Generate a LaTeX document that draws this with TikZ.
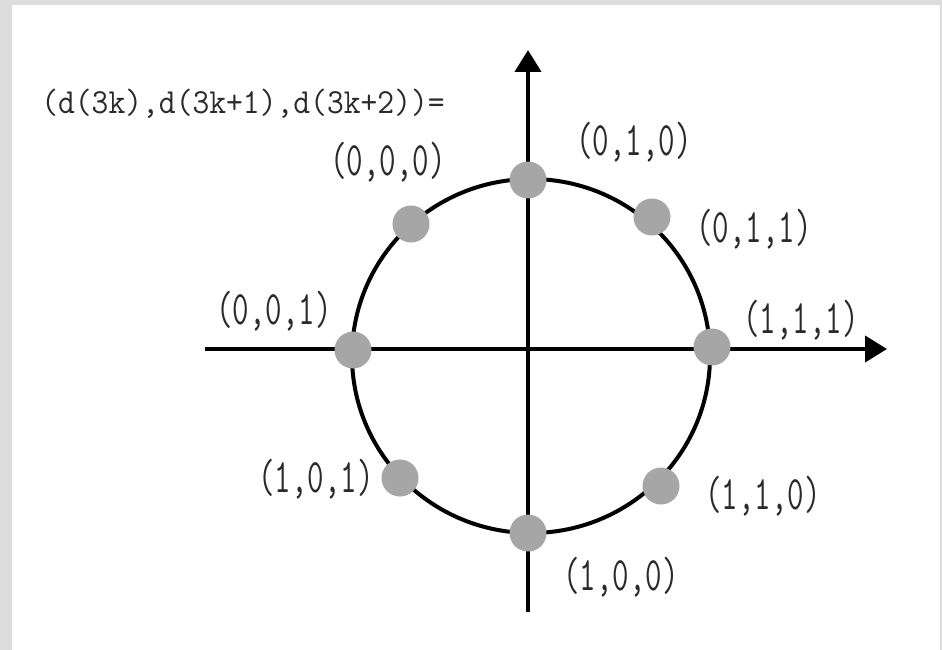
\documentclass[tikz,border=0pt]{standalone}
\usetikzlibrary{arrows.meta}
\definecolor{framegray}{HTML}{DCDCDC}
\definecolor{dotgray}{HTML}{A6A6A6}
\definecolor{textgray}{HTML}{2A2A2A}
\begin{document}
\begin{tikzpicture}[x=1pt,y=-1pt,
  axis/.style={line width=4pt,-{Triangle[width=26pt,length=22pt]}},
  ring/.style={line width=4pt},
  dot/.style={circle,fill=dotgray,minimum size=37pt,inner sep=0pt},
  lbl/.style={inner sep=0pt,text=textgray,font=\fontsize{32}{34}\ttfamily},
  ]
\useasboundingbox (0,0) rectangle (942,650);
\fill[framegray] (0,0) rectangle (942,650);
\fill[white] (12,5) rectangle (940,650);
% axes
\coordinate (xl) at (205,349);
\coordinate (xr) at (887,349);
\coordinate (yb) at (528,612);
\coordinate (yt) at (528,50);
\draw[axis] (xl) -- (xr);
\draw[axis] (yb) -- (yt);
% circle
\draw[ring] (531,356) ellipse [x radius=179, y radius=177];
% dots
\node[dot] (d000) at (411,224) {};
\node[dot] (d010) at (528,180) {};
\node[dot] (d011) at (652,217) {};
\node[dot] (d001) at (353,350) {};
\node[dot] (d111) at (712,347) {};
\node[dot] (d101) at (400,478) {};
\node[dot] (d110) at (661,486) {};
\node[dot] (d100) at (528,533) {};
% labels
\node[lbl] (title) at (243,104) {\scalebox{1.02}[1.1]{(d(3k),d(3k+1),d(3k+2))=}};
\node[lbl] (l000) at (388,162) {\scalebox{1}[1.5]{(0,0,0)}};
\node[lbl] (l010) at (634,142) {\scalebox{1}[1.5]{(0,1,0)}};
\node[lbl] (l011) at (754,229) {\scalebox{1}[1.5]{(0,1,1)}};
\node[lbl] (l001) at (274,311) {\scalebox{1}[1.5]{(0,0,1)}};
\node[lbl] (l111) at (801,320) {\scalebox{1}[1.5]{(1,1,1)}};
\node[lbl] (l101) at (316,479) {\scalebox{1}[1.5]{(1,0,1)}};
\node[lbl] (l110) at (763,496) {\scalebox{1}[1.5]{(1,1,0)}};
\node[lbl] (l100) at (621,577) {\scalebox{1}[1.5]{(1,0,0)}};
\end{tikzpicture}
\end{document}
